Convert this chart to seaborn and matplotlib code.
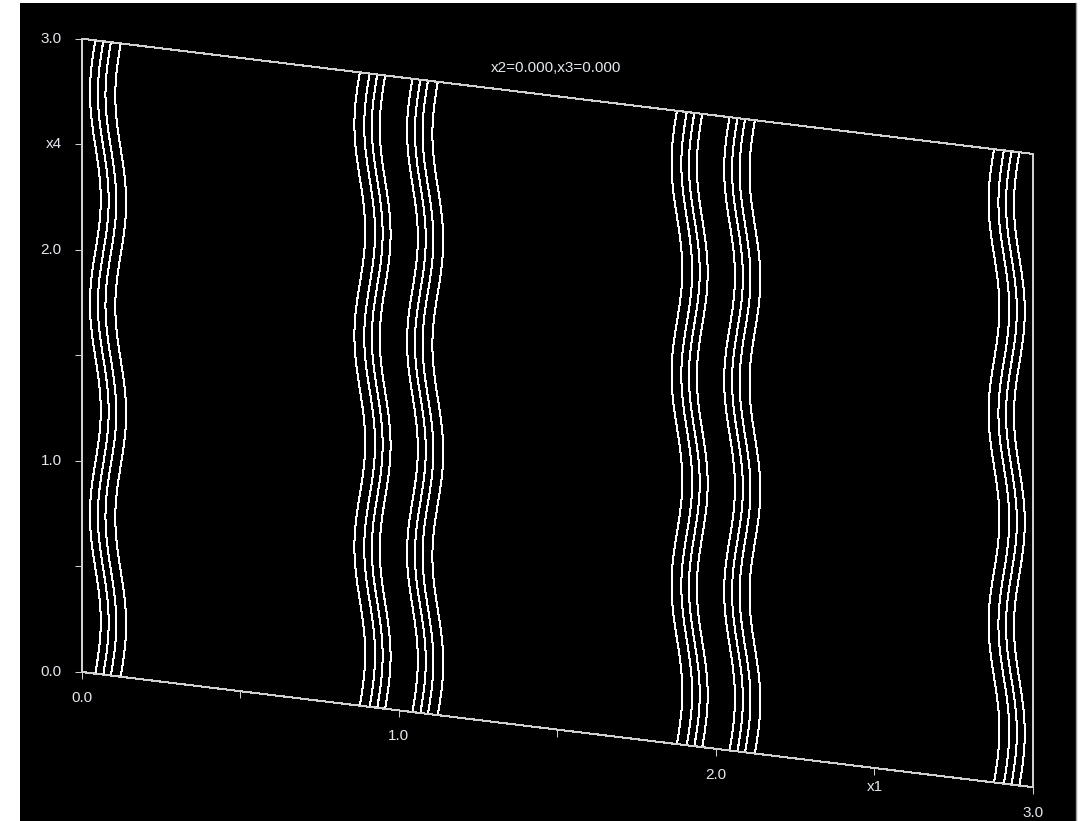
import numpy as np
import matplotlib
matplotlib.use("Agg")
import matplotlib.pyplot as plt
from matplotlib.transforms import Affine2D
from matplotlib.lines import TICKLEFT, TICKDOWN
import seaborn as sns

# ---- data -------------------------------------------------------------
# distance of each contour from the nearest integer x1 (contour levels)
contour_levels = [0.043, 0.068, 0.092, 0.123]
# sideways ripple of the contours along x4
wave_amplitude = 0.017
wave_period = 1.0

x1_range = [0.0, 3.0]
x4_range = [0.0, 3.0]

x1_ticks = [0.0, 0.5, 1.0, 1.5, 2.0, 2.5, 3.0]
x4_ticks = [0.0, 0.5, 1.0, 1.5, 2.0, 2.5, 3.0]
x1_label_pos = [0.0, 1.0, 2.0, 2.5, 3.0]
x1_label_txt = ["0.0", "1.0", "2.0", "x1", "3.0"]
x4_label_pos = [0.0, 1.0, 2.0, 2.5, 3.0]
x4_label_txt = ["0.0", "1.0", "2.0", "x4", "3.0"]
slice_title = "x2=0.000,x3=0.000"

# ---- style ------------------------------------------------------------
sns.set_style("dark", {"axes.facecolor": "black", "figure.facecolor": "white"})
plt.rcParams["font.family"] = ["Liberation Sans", "DejaVu Sans"]

BG = "black"
FRAME = "#d0d0d0"
LINE = "white"
TEXT = "#e4e8ee"
FS = 11

W, H = 1087, 821
fig = plt.figure(figsize=(W / 100, H / 100), dpi=100)
fig.patch.set_facecolor("white")

# axes in pixel units (y downwards) covering the black panel
left, right, top, bottom = 20, 1076, 3, 821
ax = fig.add_axes([left / W, 1 - bottom / H, (right - left) / W, (bottom - top) / H])
ax.set_facecolor(BG)
ax.set_xlim(left, right)
ax.set_ylim(bottom, top)
ax.set_xticks([])
ax.set_yticks([])
for side, sp in ax.spines.items():
    sp.set_visible(side == "right")
ax.spines["right"].set_color("#9a9a9a")
ax.spines["right"].set_linewidth(1.0)
ax.grid(False)

# oblique projection of the (x1, x4) plane onto the panel
proj = Affine2D.from_values(317.1, 38.4, 0.0, -211.1, 81.7, 672.0) + ax.transData

# ---- contour field ----------------------------------------------------
x1 = np.linspace(x1_range[0], x1_range[1], 900)
x4 = np.linspace(x4_range[0], x4_range[1], 900)
X1, X4 = np.meshgrid(x1, x4)
shifted = X1 - wave_amplitude * np.sin(2 * np.pi * X4 / wave_period)
field = np.abs(shifted - np.round(shifted))

ax.contour(X1, X4, field, levels=contour_levels, colors=LINE,
           linewidths=0.72, transform=proj, antialiased=False)

# ---- frame ------------------------------------------------------------
frame_x1 = [x1_range[0], x1_range[1], x1_range[1], x1_range[0], x1_range[0]]
frame_x4 = [x4_range[0], x4_range[0], x4_range[1], x4_range[1], x4_range[0]]
sns.lineplot(x=frame_x1, y=frame_x4, sort=False, estimator=None, ax=ax,
             color=FRAME, linewidth=0.75, transform=proj, antialiased=False)

# tick marks
ax.plot(x1_ticks, [x4_range[0]] * len(x1_ticks), linestyle="none",
        marker=TICKDOWN, markersize=5.2, markeredgewidth=0.75,
        color=FRAME, transform=proj)
ax.plot([x1_range[0]] * len(x4_ticks), x4_ticks, linestyle="none",
        marker=TICKLEFT, markersize=5.2, markeredgewidth=0.75,
        color=FRAME, transform=proj)

# tick labels
for v, t in zip(x1_label_pos, x1_label_txt):
    dy = -19 if t == "x1" else -26
    ax.annotate(t, xy=(v, x4_range[0]), xycoords=proj, xytext=(0, dy),
                textcoords="offset pixels", ha="center", va="center",
                color=TEXT, fontsize=FS)
for v, t in zip(x4_label_pos, x4_label_txt):
    ax.annotate(t, xy=(x1_range[0], v), xycoords=proj, xytext=(-20, 0),
                textcoords="offset pixels", ha="right", va="center",
                color=TEXT, fontsize=FS)

ax.set_xlim(left, right)
ax.set_ylim(bottom, top)

fig.text(556 / W, 1 - 68 / H, slice_title, ha="center", va="center",
         color=TEXT, fontsize=FS)

fig.savefig("out.png", dpi=100, facecolor=fig.get_facecolor())
